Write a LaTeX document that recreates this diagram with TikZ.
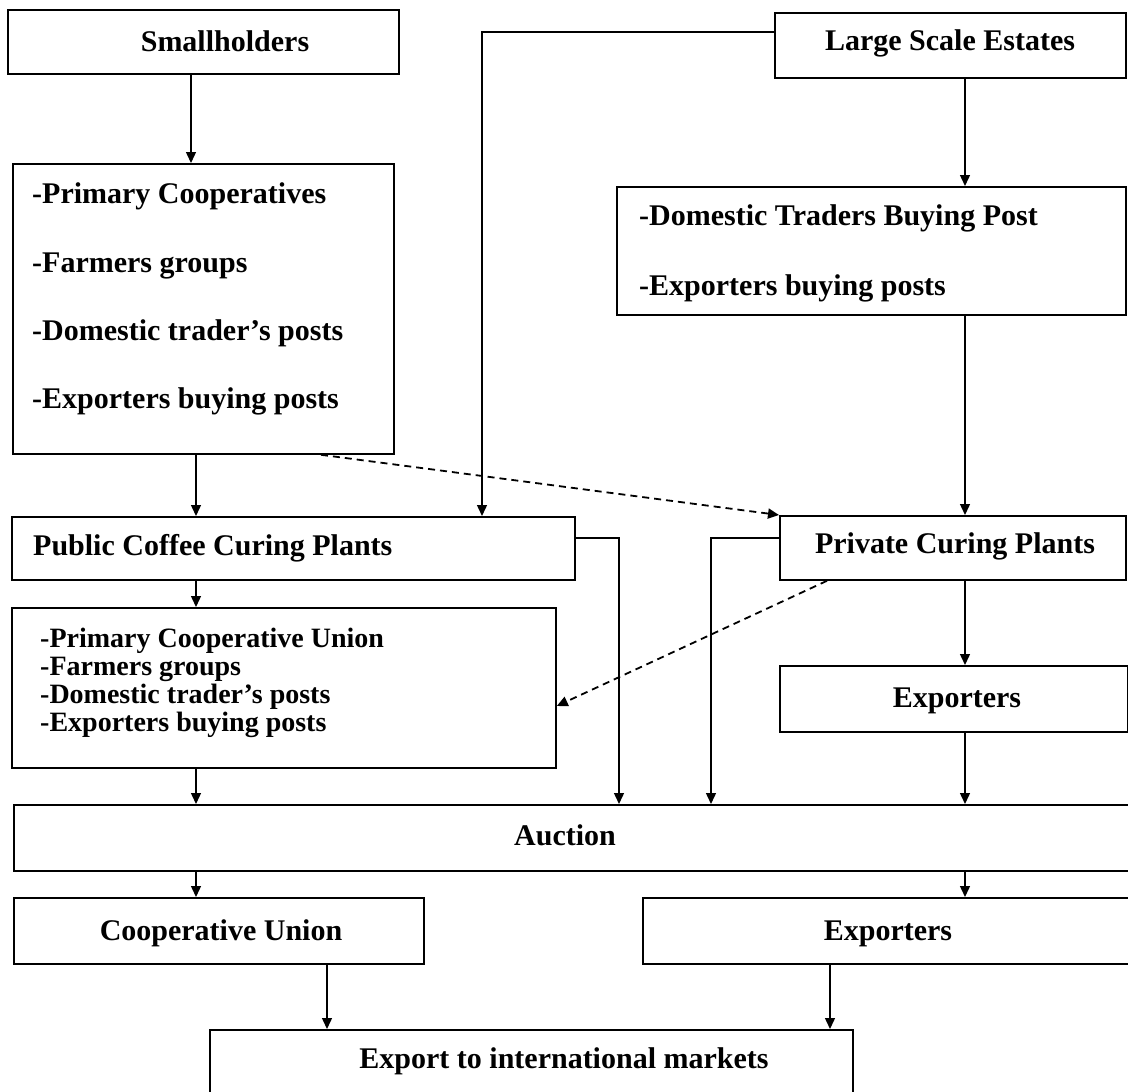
\documentclass[tikz,border=0pt]{standalone}
\usepackage{fontspec}
\setmainfont{Liberation Serif}
\usetikzlibrary{arrows.meta}
\begin{document}
\begin{tikzpicture}[x=1pt,y=-1pt,
  box/.style={draw=black, line width=1.8pt, rectangle, inner sep=0pt, anchor=north west},
  lbl/.style={font=\fontsize{30}{36}\selectfont\bfseries, inner sep=0pt, anchor=base},
  lbll/.style={lbl, anchor=base west},
  lbls/.style={lbll, font=\fontsize{28}{32}\selectfont\bfseries},
  conn/.style={line width=1.4pt, -{Triangle[length=11pt,width=10pt]}},
  dsh/.style={conn, line width=1.8pt, dash pattern=on 7pt off 5pt}]
\useasboundingbox (0,0) rectangle (1128,1092);
\clip (0,0) rectangle (1128,1092);
\fill[white] (0,0) rectangle (1128,1092);

% boxes
\node[box, minimum width=391pt, minimum height=64pt] (sh) at (7,9) {};
\node[box, minimum width=351pt, minimum height=65pt] (lse) at (774,12) {};
\node[box, minimum width=381pt, minimum height=290pt] (pc) at (12,163) {};
\node[box, minimum width=509pt, minimum height=128pt] (dt) at (616,186) {};
\node[box, minimum width=563pt, minimum height=63pt] (pub) at (11,516) {};
\node[box, minimum width=346pt, minimum height=64pt] (pvt) at (779,515) {};
\node[box, minimum width=544pt, minimum height=160pt] (sb) at (11,607) {};
\node[box, minimum width=348pt, minimum height=66pt] (exu) at (779,665) {};
\node[box, minimum width=1122pt, minimum height=66pt] (auc) at (13,804) {};
\node[box, minimum width=410pt, minimum height=66pt] (coop) at (13,897) {};
\node[box, minimum width=493pt, minimum height=66pt] (exl) at (642,897) {};
\node[box, minimum width=643pt, minimum height=81pt] (exp) at (209,1029) {};

% texts
\node[lbl] (tsh) at (225,51) {Smallholders};
\node[lbl] (tlse) at (950,50) {Large Scale Estates};
\node[lbll] (tpc1) at (32,203) {-Primary Cooperatives};
\node[lbll] (tpc2) at (32,272) {-Farmers groups};
\node[lbll] (tpc3) at (32,340) {-Domestic trader’s posts};
\node[lbll] (tpc4) at (32,408) {-Exporters buying posts};
\node[lbll] (tdt1) at (639,225) {-Domestic Traders Buying Post};
\node[lbll] (tdt2) at (639,295) {-Exporters buying posts};
\node[lbll] (tpub) at (33,555) {Public Coffee Curing Plants};
\node[lbl] (tpvt) at (955,553) {Private Curing Plants};
\node[lbls] (tsb1) at (40,647) {-Primary Cooperative Union};
\node[lbls] (tsb2) at (40,675) {-Farmers groups};
\node[lbls] (tsb3) at (40,703) {-Domestic trader’s posts};
\node[lbls] (tsb4) at (40,731) {-Exporters buying posts};
\node[lbl] (texu) at (957,707) {Exporters};
\node[lbl] (tauc) at (565,845) {Auction};
\node[lbl] (tcoop) at (221,940) {Cooperative Union};
\node[lbl] (texl) at (888,940) {Exporters};
\node[lbl] (texp) at (564,1068) {Export to international markets};

% helper columns and rows
\coordinate (ca) at (191,0);
\coordinate (cb) at (196,0);
\coordinate (cc) at (482,0);
\coordinate (cd) at (965,0);
\coordinate (ce) at (619,0);
\coordinate (cf) at (711,0);
\coordinate (cg) at (327,0);
\coordinate (ch) at (830,0);
\coordinate (cx1) at (321,0);
\coordinate (cx2) at (827,0);
\coordinate (r1) at (0,32);
\coordinate (r2) at (0,538);
\coordinate (r3) at (0,706);

% connectors
\draw[conn] (sh.south -| ca) -- (pc.north -| ca);
\draw[conn] (lse.west |- r1) -| (pub.north -| cc);
\draw[conn] (lse.south -| cd) -- (dt.north -| cd);
\draw[conn] (dt.south -| cd) -- (pvt.north -| cd);
\draw[conn] (pc.south -| cb) -- (pub.north -| cb);
\draw[conn] (pub.south -| cb) -- (sb.north -| cb);
\draw[conn] (pub.east |- r2) -| (auc.north -| ce);
\draw[conn] (pvt.west |- r2) -| (auc.north -| cf);
\draw[conn] (pvt.south -| cd) -- (exu.north -| cd);
\draw[conn] (exu.south -| cd) -- (auc.north -| cd);
\draw[conn] (sb.south -| cb) -- (auc.north -| cb);
\draw[conn] (auc.south -| cb) -- (coop.north -| cb);
\draw[conn] (auc.south -| cd) -- (exl.north -| cd);
\draw[conn] (coop.south -| cg) -- (exp.north -| cg);
\draw[conn] (exl.south -| ch) -- (exp.north -| ch);
\draw[dsh] (pc.south -| cx1) -- (pvt.north west);
\draw[dsh] (pvt.south -| cx2) -- (sb.east |- r3);
\end{tikzpicture}
\end{document}
